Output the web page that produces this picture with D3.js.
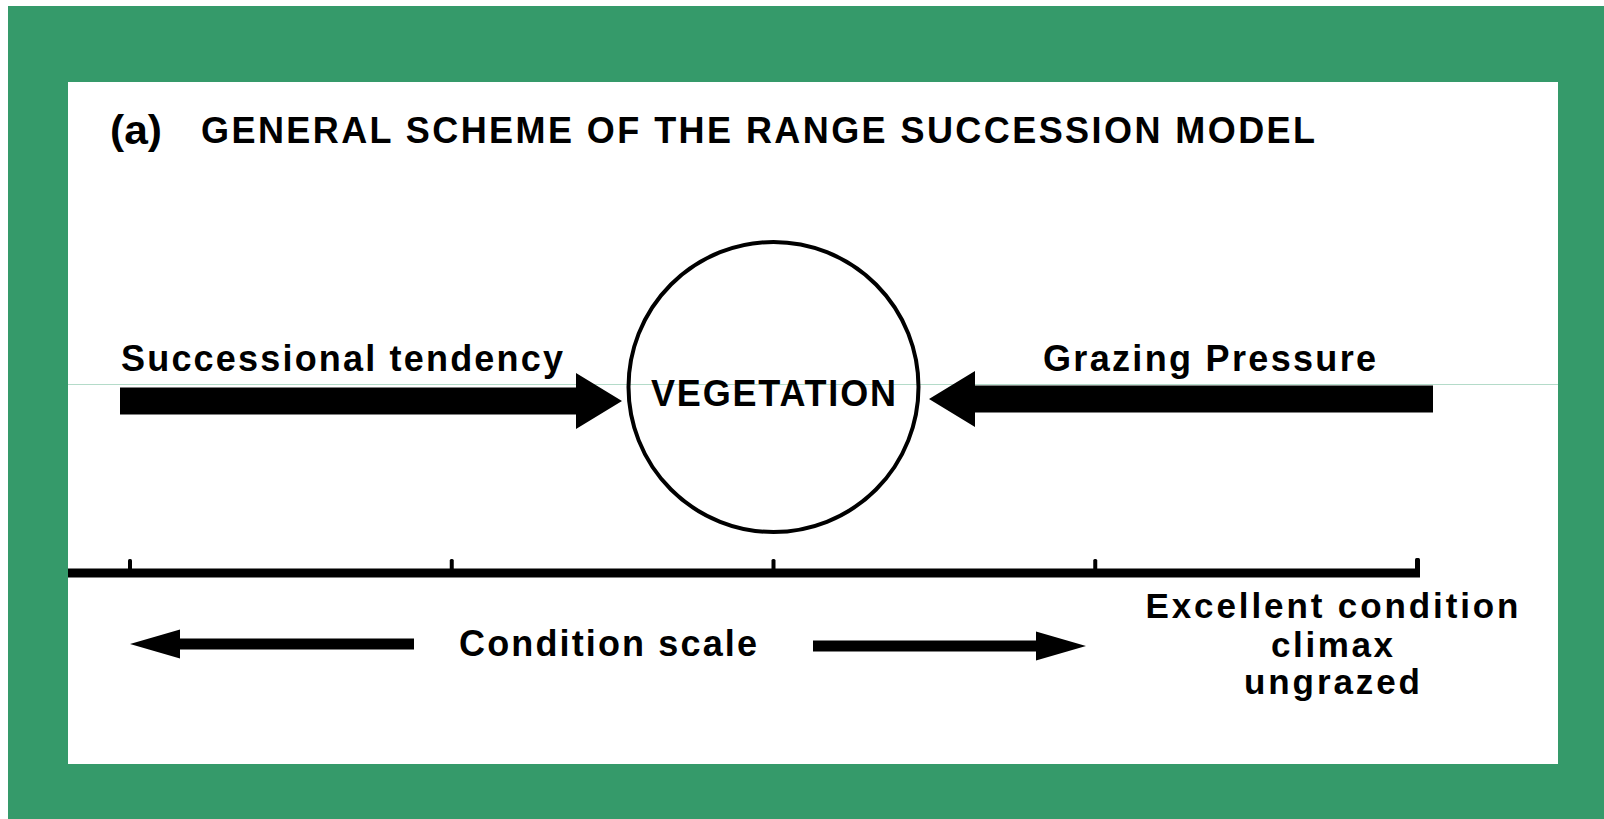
<!DOCTYPE html>
<html>
<head>
<meta charset="utf-8">
<script src="https://cdn.jsdelivr.net/npm/d3@7"></script>
<style>
  html, body { margin: 0; padding: 0; background: #fff; }
  svg { display: block; }
  text { font-family: "Liberation Sans", Arial, sans-serif; font-weight: bold; fill: #000; }
</style>
</head>
<body>
<div id="chart"></div>
<script>
// figure content
const titleParts = ['(a)', 'GENERAL SCHEME OF THE RANGE SUCCESSION MODEL']
const centreLabel = 'VEGETATION'
const forceLabels = ['Successional tendency', 'Grazing Pressure']
const forceDirections = [1, -1]
const conditionTicks = [0, 1, 2, 3, 4]
const conditionLabel = 'Condition scale'
const climaxLabel = ['Excellent condition', 'climax', 'ungrazed']

const width = 1604
const height = 819

const svg = d3.select('#chart')
  .append('svg')
  .attr('width', width)
  .attr('height', height)

// green frame + white panel
svg.append('rect').attr('x', 8).attr('y', 6).attr('width', width - 8).attr('height', height - 6).attr('fill', '#359a6a')
svg.append('rect').attr('x', 68).attr('y', 82).attr('width', 1490).attr('height', 682).attr('fill', '#fff')
svg.append('line')
  .attr('x1', 68).attr('x2', 1558).attr('y1', 384.5).attr('y2', 384.5)
  .attr('stroke', '#b4dbc9').attr('stroke-width', 1)

// condition scale positions
const x = d3.scaleLinear().domain([0, 4]).range([130, 1417])
const axisY = 573

// title
svg.append('text').attr('x', 110).attr('y', 144).style('font-size', '40px').attr('font-weight', 'normal')
  .attr('textLength', 52).attr('lengthAdjust', 'spacingAndGlyphs')
  .text(titleParts[0])
svg.append('text').attr('x', 201).attr('y', 143).style('font-size', '36px')
  .attr('textLength', 1114).attr('lengthAdjust', 'spacing')
  .text(titleParts[1])

// vegetation circle
const cx = x(2)
const cy = 387
svg.append('circle')
  .attr('cx', cx).attr('cy', cy).attr('r', 145)
  .attr('fill', 'none').attr('stroke', '#000').attr('stroke-width', 4)
svg.append('text').attr('x', 651).attr('y', 406).style('font-size', '36px')
  .attr('textLength', 245).attr('lengthAdjust', 'spacing')
  .text(centreLabel)

// block arrow helper: from x0 (tail) to x1 (tip)
function blockArrow(x0, x1, yc, shaftH, headH, headL) {
  const d = Math.sign(x1 - x0)
  const hb = x1 - d * headL
  const pts = [
    [x0, yc - shaftH / 2], [hb, yc - shaftH / 2], [hb, yc - headH / 2], [x1, yc],
    [hb, yc + headH / 2], [hb, yc + shaftH / 2], [x0, yc + shaftH / 2]
  ]
  return d3.line()(pts) + 'Z'
}

// force arrows
const forceGeom = [
  { tail: 120, tip: 622, yc: 401, labelX: 121, labelLen: 442 },
  { tail: 1433, tip: 929, yc: 399, labelX: 1043, labelLen: 333 }
]
forceLabels.forEach((label, i) => {
  const g = forceGeom[i]
  svg.append('path')
    .attr('d', blockArrow(g.tail, g.tip, g.yc, 27, 56, 46))
    .attr('fill', '#000')
  svg.append('text').attr('x', g.labelX).attr('y', 371).style('font-size', '36px')
    .attr('textLength', g.labelLen).attr('lengthAdjust', 'spacing')
    .text(label)
})

// condition scale line and ticks
svg.append('rect')
  .attr('x', 68).attr('y', axisY - 4.5).attr('width', x(4) + 3 - 68).attr('height', 9)
  .attr('fill', '#000')
svg.selectAll('.tick')
  .data(conditionTicks)
  .join('rect')
  .attr('class', 'tick')
  .attr('x', d => x(d) - 2)
  .attr('y', d => d === 4 ? axisY - 15 : axisY - 14)
  .attr('width', d => d === 4 ? 5 : 4)
  .attr('height', 14)
  .attr('rx', 1.5)
  .attr('fill', '#000')

// condition scale label and arrows
svg.append('text').attr('x', 459).attr('y', 656).style('font-size', '36px')
  .attr('textLength', 298).attr('lengthAdjust', 'spacing')
  .text(conditionLabel)
svg.append('path').attr('d', blockArrow(414, 130, 644, 11, 29, 50)).attr('fill', '#000')
svg.append('path').attr('d', blockArrow(813, 1086, 646, 11, 29, 50)).attr('fill', '#000')

// climax label
climaxLabel.forEach((t, i) => {
  svg.append('text')
    .attr('x', 1332).attr('y', [618, 657, 694][i])
    .attr('text-anchor', 'middle')
    .style('font-size', '35px')
    .attr('textLength', [373, 122, 176][i]).attr('lengthAdjust', 'spacing')
    .text(t)
})
</script>
</body>
</html>
